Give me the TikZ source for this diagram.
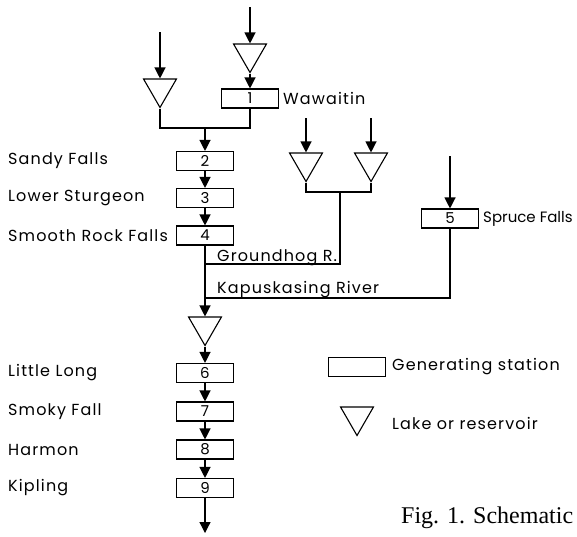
\documentclass[tikz,border=0pt]{standalone}
\usepackage{fontspec}
\setmainfont{Poppins}
\newfontfamily\letterfont[LetterSpace=7]{Poppins}
\newfontfamily\capfont{Liberation Serif}
\usetikzlibrary{arrows.meta,shapes.geometric}

\begin{document}
\begin{tikzpicture}[x=1pt, y=-1pt,
    station/.style={rectangle, draw, line width=1.1pt, minimum width=57pt, minimum height=19pt, inner sep=0pt, font=\letterfont\fontsize{15}{15}\selectfont},
    lake/.style={regular polygon, regular polygon sides=3, shape border rotate=180, draw, line width=1.1pt, minimum size=38pt, inner sep=0pt},
    sitename/.style={anchor=west, inner sep=0pt, font=\letterfont\fontsize{16}{16}\selectfont},
    flow/.style={-{Triangle[width=11pt,length=11pt]}, line width=1.2pt},
    river/.style={line width=1.2pt}
]
\clip (0,0) rectangle (577,536);

% Headwaters and Wawaitin
\coordinate (inTL) at (160,32);
\coordinate (inTR) at (250,7);
\node[lake] (LTL) at (160,88.5) {};
\node[lake] (LTR) at (250,53.5) {};
\node[station] (S1) at (250,98.5) {1};
\node[sitename] (N1) at (283,98.5) {Wawaitin};
\coordinate (J1) at (205,128);
\draw[flow] (inTL) -- (LTL.north);
\draw[flow] (inTR) -- (LTR.north);
\draw[flow] (LTR.corner 1) -- (S1.north);
\draw[river] (LTL.corner 1) |- (J1) -| (S1.south);

% Upper main stem
\node[station] (S2) at (205,161) {2};
\node[station] (S3) at (205,198) {3};
\node[station] (S4) at (205,235.5) {4};
\node[sitename] (N2) at (8,161) {Sandy Falls};
\node[sitename] (N3) at (8,198) {Lower Sturgeon};
\node[sitename] (N4) at (8,235.5) {Smooth Rock Falls};
\draw[flow] (J1) -- (S2.north);
\draw[flow] (S2.south) -- (S3.north);
\draw[flow] (S3.south) -- (S4.north);

% Groundhog R.
\coordinate (inG1) at (306,118);
\coordinate (inG2) at (371,118);
\node[lake] (LG1) at (306,162.5) {};
\node[lake] (LG2) at (371,162.5) {};
\coordinate (JG) at (340,192);
\coordinate (JGm) at (205,264);
\draw[flow] (inG1) -- (LG1.north);
\draw[flow] (inG2) -- (LG2.north);
\draw[river] (LG1.corner 1) |- (JG) -| (LG2.corner 1);
\draw[river] (JG) |- (JGm);
\node[sitename, anchor=base west] (NG) at (217,261) {Groundhog R.};

% Kapuskasing River
\coordinate (inS5) at (450,156);
\node[station] (S5) at (450,218.5) {5};
\node[sitename, font=\fontsize{15}{15}\selectfont] (N5) at (483,218.5) {Spruce Falls};
\coordinate (JKm) at (205,298);
\draw[flow] (inS5) -- (S5.north);
\draw[river] (S5.south) |- (JKm);
\node[sitename, anchor=base west] (NK) at (217,293) {Kapuskasing River};

% Lower main stem
\node[lake] (LM) at (205,326.5) {};
\node[station] (S6) at (205,373) {6};
\node[station] (S7) at (205,411.5) {7};
\node[station] (S8) at (205,449.5) {8};
\node[station] (S9) at (205,488) {9};
\node[sitename] (N6) at (8,373) {Little Long};
\node[sitename] (N7) at (8,411.5) {Smoky Fall};
\node[sitename] (N8) at (8,449.5) {Harmon};
\node[sitename] (N9) at (8,488) {Kipling};
\coordinate (out) at (205,533);
\draw[flow] (S4.south) -- (LM.north);
\draw[flow] (LM.corner 1) -- (S6.north);
\draw[flow] (S6.south) -- (S7.north);
\draw[flow] (S7.south) -- (S8.north);
\draw[flow] (S8.south) -- (S9.north);
\draw[flow] (S9.south) -- (out);

% Legend
\node[station] (KeyS) at (357,367) {};
\node[sitename] (KeySt) at (392,367) {Generating station};
\node[lake] (KeyL) at (357,416.5) {};
\node[sitename] (KeyLt) at (392,423) {Lake or reservoir};

% Caption
\node[anchor=base west, inner sep=0pt, font=\capfont\fontsize{24}{24}\selectfont] (cap) at (401,523) {Fig. 1. Schematic};
\end{tikzpicture}
\end{document}
